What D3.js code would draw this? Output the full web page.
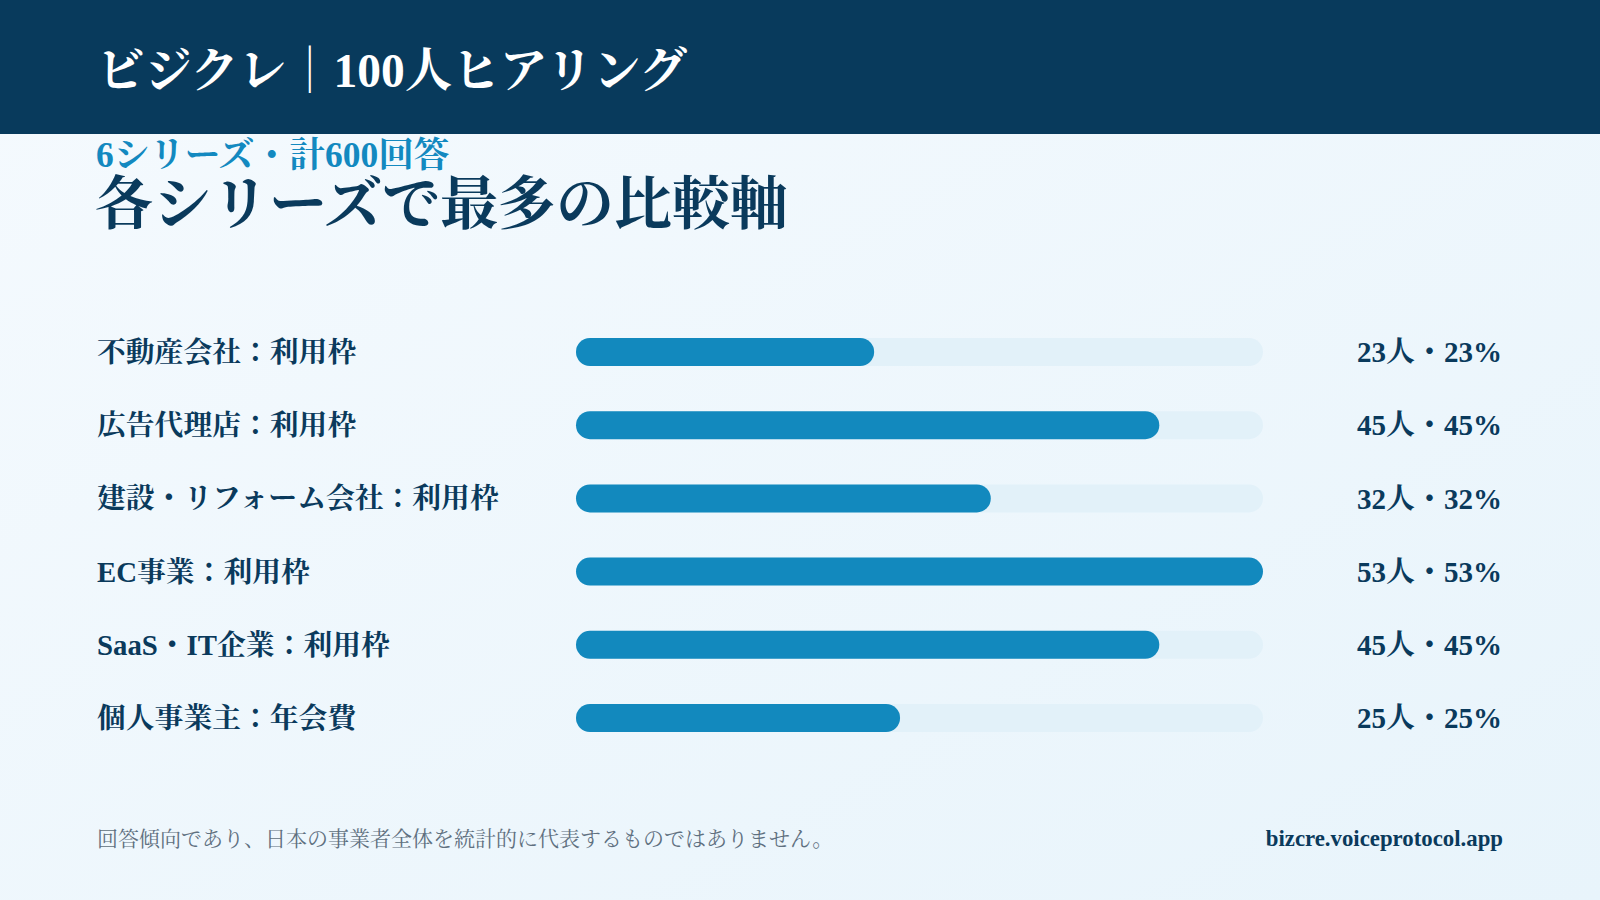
<!DOCTYPE html>
<html><head><meta charset="utf-8">
<script src="https://cdn.jsdelivr.net/npm/d3@7"></script>
<style>
html,body{margin:0;padding:0;width:1600px;height:900px;overflow:hidden;}
svg{display:block;}
text{font-family:"Liberation Serif","Noto Serif CJK JP","Noto Sans CJK JP",serif;}
</style></head>
<body>
<svg id="chart" width="1600" height="900"></svg>
<script>
const categories = ["不動産会社：利用枠","広告代理店：利用枠","建設・リフォーム会社：利用枠","EC事業：利用枠","SaaS・IT企業：利用枠","個人事業主：年会費"];
const counts = [23,45,32,53,45,25];
const percents = [23,45,32,53,45,25];
const headerTitle = "ビジクレ｜100人ヒアリング";
const kicker = "6シリーズ・計600回答";
const mainTitle = "各シリーズで最多の比較軸";
const footnote = "回答傾向であり、日本の事業者全体を統計的に代表するものではありません。";
const siteUrl = "bizcre.voiceprotocol.app";

const svg = d3.select("#chart");
const defs = svg.append("defs");
const grad = defs.append("linearGradient").attr("id","bg").attr("x1","0").attr("y1","0").attr("x2","1").attr("y2","1");
grad.append("stop").attr("offset","0%").attr("stop-color","#f5fafe");
grad.append("stop").attr("offset","100%").attr("stop-color","#e8f4fb");
svg.append("rect").attr("width",1600).attr("height",900).attr("fill","url(#bg)");

// header
svg.append("rect").attr("width",1600).attr("height",134).attr("fill","#083a5c");
svg.append("text").attr("x",97).attr("y",87).attr("fill","#ffffff").attr("font-size",47.5).attr("font-weight",700).text(headerTitle);

svg.append("text").attr("x",96).attr("y",167).attr("fill","#1389c0").attr("font-size",35.5).attr("font-weight",700).text(kicker);
svg.append("text").attr("x",95).attr("y",224).attr("fill","#0a3a5c").attr("font-size",58).attr("font-weight",700).text(mainTitle);

const y = d3.scalePoint().domain(categories).range([352,718]);
const x = d3.scaleLinear().domain([0, d3.max(counts)]).range([576,1263]);
const barH = 28;

const rows = svg.append("g").selectAll("g").data(categories).join("g");
rows.append("text").attr("x",97).attr("y",d=>y(d)).attr("dy","0.35em")
  .attr("fill","#0a3a5c").attr("font-size",28.8).attr("font-weight",700).text(d=>d);
rows.append("rect").attr("x",x(0)).attr("y",d=>y(d)-barH/2).attr("width",x.range()[1]-x(0)).attr("height",barH)
  .attr("rx",barH/2).attr("fill","#e2f1f9");
rows.append("rect").attr("x",x(0)).attr("y",d=>y(d)-barH/2).attr("width",(d,i)=>x(counts[i])-x(0)).attr("height",barH)
  .attr("rx",barH/2).attr("fill","#1289be");
rows.append("text").attr("x",1502).attr("y",d=>y(d)).attr("dy","0.35em").attr("text-anchor","end")
  .attr("fill","#0a3a5c").attr("font-size",29).attr("font-weight",700)
  .text((d,i)=>`${counts[i]}人・${percents[i]}%`);

svg.append("text").attr("x",97).attr("y",846).attr("fill","#5f7080").attr("font-size",21).text(footnote);
svg.append("text").attr("x",1503).attr("y",846).attr("text-anchor","end").attr("fill","#0a3a5c").attr("font-size",22.8).attr("font-weight",700).text(siteUrl);
</script>
</body></html>
